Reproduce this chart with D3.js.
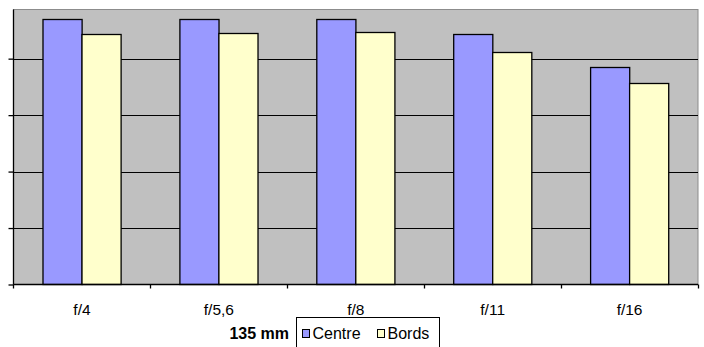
<!DOCTYPE html>
<html>
<head>
<meta charset="utf-8">
<script src="https://cdn.jsdelivr.net/npm/d3@7"></script>
<style>
  html, body { margin: 0; padding: 0; background: #ffffff; }
  svg { display: block; }
  text { font-family: Arial, "Liberation Sans", sans-serif; fill: #000; }
</style>
</head>
<body>
<svg id="chart" width="704" height="347"></svg>
<script>
// Apertures tested on the 135 mm lens
const categories = ["f/4", "f/5,6", "f/8", "f/11", "f/16"];
const seriesNames = ["Centre", "Bords"];
const centreValues = [4.71, 4.71, 4.71, 4.44, 3.86];
const bordsValues = [4.44, 4.46, 4.47, 4.12, 3.57];
const yTicks = [0, 1, 2, 3, 4];
const legendTitle = "135 mm";
const seriesColors = ["#9999FF", "#FFFFCC"];

const svg = d3.select("#chart");

const plot = { left: 13.5, right: 698, top: 9.5, bottom: 284.5 };

const x = d3.scaleBand()
  .domain(categories)
  .range([plot.left, plot.right])
  .padding(0);

const xs = d3.scaleBand()
  .domain(seriesNames)
  .range([0, x.bandwidth()])
  .paddingInner(0)
  .paddingOuter(0.75);

const y = d3.scaleLinear()
  .domain([0, 5])
  .range([plot.bottom, 2.2]);

const color = d3.scaleOrdinal().domain(seriesNames).range(seriesColors);

// plot area
svg.append("rect")
  .attr("x", plot.left)
  .attr("y", plot.top)
  .attr("width", plot.right - plot.left)
  .attr("height", plot.bottom - plot.top)
  .attr("fill", "#C0C0C0")
  .attr("stroke", "#8C8C8C")
  .attr("stroke-width", 1);

// gridlines
svg.append("g")
  .selectAll("line")
  .data(yTicks.filter(d => d > 0))
  .join("line")
  .attr("x1", plot.left)
  .attr("x2", plot.right)
  .attr("y1", d => Math.round(y(d)) + 0.5)
  .attr("y2", d => Math.round(y(d)) + 0.5)
  .attr("stroke", "#000")
  .attr("stroke-width", 1);

// bars
const rows = categories.map((c, i) => ({ cat: c, values: [centreValues[i], bordsValues[i]] }));
const groups = svg.append("g")
  .selectAll("g")
  .data(rows)
  .join("g")
  .attr("transform", d => `translate(${x(d.cat)},0)`);

groups.selectAll("rect")
  .data(d => seriesNames.map((s, k) => ({ key: s, value: d.values[k] })))
  .join("rect")
  .attr("x", d => Math.round(xs(d.key)) + 0.5)
  .attr("y", d => Math.round(y(d.value)) + 0.5)
  .attr("width", xs.bandwidth())
  .attr("height", d => plot.bottom - Math.round(y(d.value)) - 0.5)
  .attr("fill", d => color(d.key))
  .attr("stroke", "#000")
  .attr("stroke-width", 1.3);

// value axis (labels hidden)
const yAxis = d3.axisLeft(y).tickValues(yTicks).tickSize(5).tickFormat("");
const yG = svg.append("g")
  .attr("transform", `translate(${plot.left},0)`)
  .call(yAxis);
yG.select(".domain").attr("d", `M0,${plot.top}V${plot.bottom}`).attr("stroke", "#000").attr("stroke-width", 1.3);
yG.selectAll(".tick line").attr("stroke", "#000").attr("stroke-width", 1.3);

// category axis
const xAxis = d3.axisBottom(x).tickSize(0).tickPadding(19);
const xG = svg.append("g")
  .attr("transform", `translate(0,${plot.bottom})`)
  .call(xAxis);
xG.select(".domain").attr("d", `M${plot.left},0H${plot.right}`).attr("stroke", "#000").attr("stroke-width", 1.3);
xG.selectAll(".tick text")
  .style("font-family", "Arial, 'Liberation Sans', sans-serif")
  .style("font-size", "15.5px")
  .attr("fill", "#000");

// category separators below the axis
const boundaries = categories.map(c => x(c)).concat([plot.right]).slice(1);
xG.append("g")
  .selectAll("line")
  .data(boundaries)
  .join("line")
  .attr("x1", d => Math.round(d) + 0.5)
  .attr("x2", d => Math.round(d) + 0.5)
  .attr("y1", 0)
  .attr("y2", 4)
  .attr("stroke", "#000")
  .attr("stroke-width", 1.3);
xG.append("line")
  .attr("x1", plot.left).attr("x2", plot.left)
  .attr("y1", 0).attr("y2", 4)
  .attr("stroke", "#000").attr("stroke-width", 1.3);

// legend
svg.append("text")
  .attr("x", 289)
  .attr("y", 339)
  .attr("text-anchor", "end")
  .style("font-size", "16px")
  .style("font-weight", "bold")
  .text(legendTitle);

const legend = svg.append("g");
legend.append("rect")
  .attr("x", 296.5)
  .attr("y", 317.5)
  .attr("width", 143)
  .attr("height", 40)
  .attr("fill", "#fff")
  .attr("stroke", "#000")
  .attr("stroke-width", 1);

const legendItems = [
  { key: seriesNames[0], sx: 302.5, tx: 312.5 },
  { key: seriesNames[1], sx: 377.5, tx: 387.5 }
];
const li = legend.selectAll("g.item")
  .data(legendItems)
  .join("g")
  .attr("class", "item");
li.append("rect")
  .attr("x", d => d.sx)
  .attr("y", 329.5)
  .attr("width", 7)
  .attr("height", 8)
  .attr("fill", d => color(d.key))
  .attr("stroke", "#000")
  .attr("stroke-width", 1);
li.append("text")
  .attr("x", d => d.tx)
  .attr("y", 339)
  .style("font-size", "16px")
  .text(d => d.key);
</script>
</body>
</html>
